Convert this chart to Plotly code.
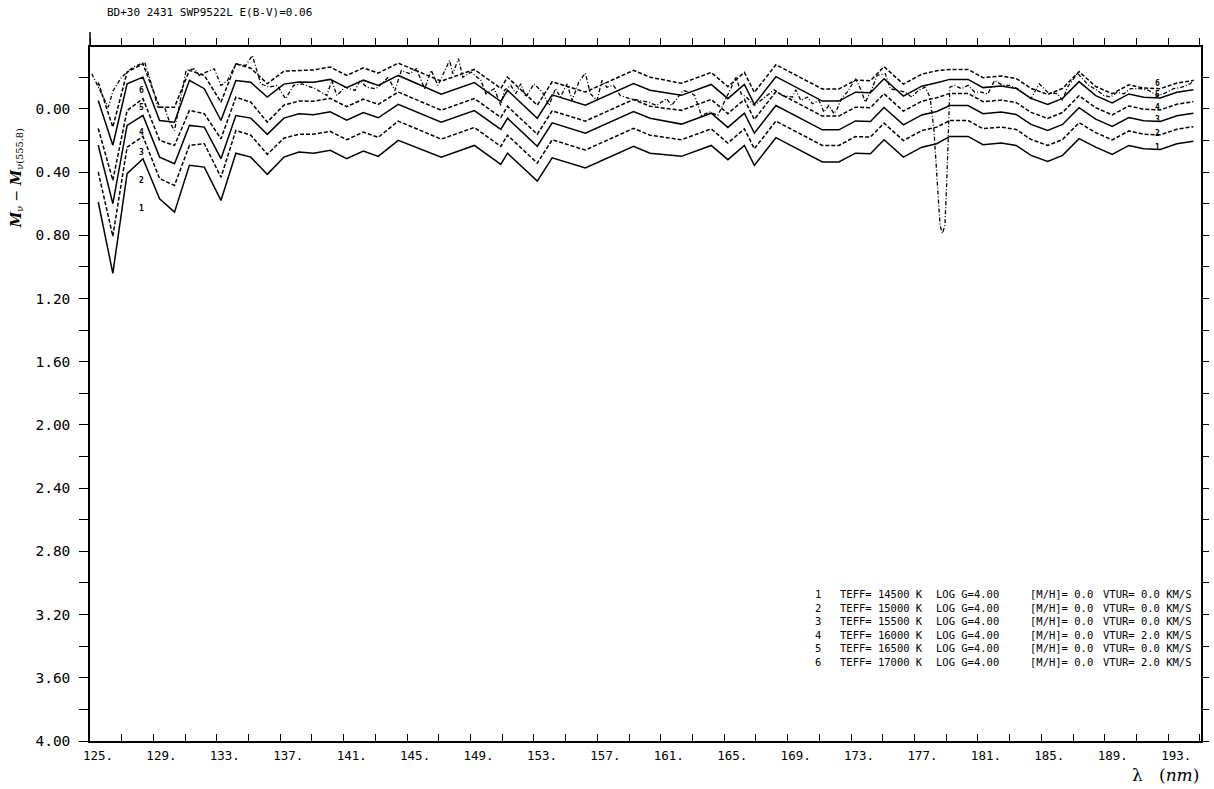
import plotly.graph_objects as go

TITLE = "BD+30 2431 SWP9522L E(B-V)=0.06"

LAM_MODEL = [125.52, 126.44, 127.34, 128.34, 129.39, 130.33, 131.27, 132.21, 133.26, 134.20,
             135.14, 136.18, 137.23, 138.17, 139.11, 140.15, 141.19, 142.24, 143.18, 144.44,
             147.15, 149.24, 150.91, 151.33, 153.21, 154.15, 156.24, 159.28, 160.32, 162.30,
             164.18, 165.23, 166.27, 166.90, 168.26, 171.19, 172.23, 173.28, 174.22, 175.08,
             176.30, 177.46, 178.40, 179.23, 180.38, 181.32, 182.47, 183.41, 184.35, 185.40,
             186.34, 187.38, 188.43, 189.47, 190.52, 191.46, 192.50, 193.55, 194.59]

M1 = [0.589, 1.040, 0.410, 0.315, 0.568, 0.653, 0.357, 0.368, 0.579, 0.280,
      0.305, 0.414, 0.305, 0.273, 0.280, 0.262, 0.315, 0.267, 0.300, 0.199,
      0.305, 0.231, 0.351, 0.280, 0.457, 0.309, 0.374, 0.237, 0.280, 0.300,
      0.231, 0.321, 0.231, 0.357, 0.182, 0.336, 0.336, 0.280, 0.283, 0.195,
      0.305, 0.242, 0.220, 0.174, 0.174, 0.226, 0.216, 0.231, 0.294, 0.332,
      0.294, 0.188, 0.242, 0.288, 0.231, 0.252, 0.256, 0.220, 0.204]
M2 = [0.399, 0.806, 0.242, 0.174, 0.441, 0.484, 0.230, 0.220, 0.432, 0.136,
      0.166, 0.287, 0.185, 0.161, 0.160, 0.142, 0.195, 0.147, 0.180, 0.077,
      0.191, 0.117, 0.237, 0.166, 0.343, 0.195, 0.260, 0.123, 0.166, 0.195,
      0.126, 0.216, 0.126, 0.252, 0.077, 0.231, 0.231, 0.175, 0.178, 0.090,
      0.200, 0.137, 0.115, 0.073, 0.073, 0.125, 0.115, 0.130, 0.193, 0.231,
      0.193, 0.087, 0.150, 0.196, 0.139, 0.160, 0.164, 0.128, 0.112]
M3 = [0.230, 0.599, 0.104, 0.041, 0.305, 0.347, 0.104, 0.115, 0.315, 0.042,
      0.058, 0.161, 0.058, 0.030, 0.036, 0.018, 0.071, 0.023, 0.056, -0.029,
      0.084, 0.010, 0.130, 0.059, 0.236, 0.088, 0.153, 0.016, 0.059, 0.096,
      0.027, 0.117, 0.027, 0.153, -0.022, 0.132, 0.132, 0.076, 0.079, -0.009,
      0.101, 0.038, 0.016, -0.022, -0.022, 0.030, 0.020, 0.035, 0.098, 0.136,
      0.098, -0.008, 0.065, 0.111, 0.054, 0.075, 0.079, 0.043, 0.027]
M4 = [0.123, 0.452, 0.010, -0.065, 0.199, 0.231, 0.009, 0.030, 0.189, -0.074,
      -0.043, 0.083, -0.024, -0.050, -0.049, -0.067, -0.014, -0.062, -0.029, -0.107,
      0.008, -0.066, 0.054, -0.017, 0.160, 0.012, 0.077, -0.060, -0.017, 0.009,
      -0.060, 0.030, -0.060, 0.066, -0.109, 0.045, 0.045, -0.011, -0.008, -0.096,
      0.014, -0.049, -0.071, -0.098, -0.098, -0.046, -0.056, -0.041, 0.022, 0.060,
      0.022, -0.084, -0.008, 0.038, -0.019, 0.002, 0.006, -0.030, -0.046]
M5 = [-0.054, 0.230, -0.159, -0.201, 0.073, 0.084, -0.181, -0.128, 0.073, -0.180,
      -0.169, -0.075, -0.157, -0.170, -0.169, -0.187, -0.134, -0.182, -0.149, -0.212,
      -0.093, -0.167, -0.047, -0.118, 0.059, -0.089, -0.024, -0.161, -0.118, -0.086,
      -0.155, -0.065, -0.155, -0.029, -0.204, -0.050, -0.050, -0.106, -0.103, -0.191,
      -0.081, -0.144, -0.166, -0.187, -0.187, -0.135, -0.145, -0.130, -0.067, -0.029,
      -0.067, -0.173, -0.084, -0.038, -0.095, -0.074, -0.070, -0.106, -0.122]
M6 = [-0.168, 0.115, -0.233, -0.286, -0.011, -0.011, -0.244, -0.212, -0.043, -0.285,
      -0.258, -0.160, -0.239, -0.244, -0.247, -0.265, -0.212, -0.260, -0.227, -0.290,
      -0.176, -0.250, -0.130, -0.201, -0.024, -0.172, -0.107, -0.244, -0.201, -0.162,
      -0.231, -0.141, -0.231, -0.105, -0.280, -0.126, -0.126, -0.182, -0.179, -0.267,
      -0.157, -0.220, -0.242, -0.250, -0.250, -0.198, -0.208, -0.193, -0.130, -0.092,
      -0.130, -0.236, -0.142, -0.096, -0.153, -0.132, -0.128, -0.164, -0.180]

LAM_OBS = [125.11, 126.15, 126.46, 126.99, 127.71, 128.45, 128.87, 129.28, 129.70, 130.02,
           130.33, 131.06, 131.58, 131.90, 132.32, 132.84, 133.26, 133.67, 134.20, 134.82,
           135.24, 135.77, 136.29, 136.81, 137.33, 137.85, 138.37, 139.21, 139.94, 140.25,
           140.57, 141.09, 141.72, 142.03, 142.45, 142.97, 143.18, 143.81, 144.23, 144.64,
           145.17, 145.58, 146.11, 146.52, 146.94, 147.68, 147.88, 148.24, 148.51, 149.03,
           149.66, 149.97, 150.50, 150.91, 151.13, 151.54, 151.85, 152.17, 152.48, 153.01,
           153.53, 153.95, 154.36, 154.67, 155.09, 155.41, 155.83, 156.24, 156.56, 156.98,
           157.29, 157.60, 158.02, 158.44, 159.06, 159.69, 160.22, 160.74, 161.36, 161.68,
           162.41, 162.82, 163.14, 163.56, 164.08, 164.60, 165.13, 165.75, 166.07, 166.39,
           166.90, 167.43, 168.15, 168.68, 169.31, 169.51, 169.83, 170.25, 170.56, 170.98,
           171.29, 171.60, 171.92, 172.13, 172.44, 172.76, 173.28, 173.59, 173.90, 174.32,
           174.64, 175.16, 175.47, 175.99, 176.41, 176.83, 177.24, 177.66, 177.98, 178.23,
           178.42, 178.61, 178.76, 178.92, 179.05, 179.15, 179.23, 179.55, 179.96, 180.38,
           180.80, 181.22, 181.63, 182.05, 182.57, 182.99, 183.51, 183.93, 184.35, 184.87,
           185.40, 186.02, 186.34, 186.65, 187.07, 187.28, 187.59, 188.01, 188.53, 188.95,
           189.37, 189.78, 190.20, 190.62, 191.25, 191.77, 192.30, 192.71, 193.34, 193.86,
           194.39, 194.70]
M_OBS = [-0.223, -0.011, -0.117, -0.201, -0.264, -0.296, -0.159, -0.011, -0.011, 0.083,
         0.136, -0.244, -0.254, -0.212, -0.233, -0.254, -0.149, -0.180, -0.286, -0.275,
         -0.338, -0.159, -0.138, -0.149, -0.065, -0.149, -0.159, -0.128, -0.085, -0.180,
         -0.085, -0.138, -0.117, -0.180, -0.138, -0.128, -0.138, -0.201, -0.117, -0.244,
         -0.223, -0.254, -0.128, -0.244, -0.149, -0.307, -0.223, -0.318, -0.201, -0.233,
         -0.180, -0.096, -0.128, -0.022, -0.117, -0.149, -0.096, -0.159, -0.075, -0.159,
         -0.106, -0.022, -0.128, -0.075, -0.159, -0.054, -0.170, -0.226, -0.096, -0.054,
         -0.180, -0.138, -0.149, -0.085, -0.065, -0.054, -0.043, -0.022, -0.065, -0.022,
         -0.117, -0.106, -0.085, 0.041, 0.020, 0.041, -0.075, -0.201, -0.096, -0.075,
         -0.022, -0.065, -0.121, -0.085, -0.075, -0.121, -0.054, -0.075, -0.033, -0.054,
         0.020, -0.022, 0.030, -0.001, -0.075, -0.106, -0.191, -0.128, -0.043, -0.128,
         -0.212, -0.223, -0.128, -0.117, -0.106, -0.075, -0.117, -0.138, -0.075, 0.136,
         0.421, 0.737, 0.788, 0.737, 0.421, 0.073, -0.138, -0.149, -0.128, -0.149,
         -0.106, -0.106, -0.096, -0.180, -0.149, -0.149, -0.128, -0.096, -0.065, -0.159,
         -0.106, -0.096, -0.054, -0.138, -0.201, -0.226, -0.191, -0.149, -0.117, -0.085,
         -0.075, -0.106, -0.096, -0.128, -0.128, -0.117, -0.085, -0.096, -0.128, -0.138,
         -0.159, -0.193]

CURVE_IDS = ["1", "2", "3", "4", "5", "6"]
LABEL_LAM_LEFT = 128.24
LABEL_M_LEFT = [0.631, 0.453, 0.273, 0.147, -0.012, -0.118]
LABEL_LAM_RIGHT = 192.34
LABEL_M_RIGHT = [0.242, 0.153, 0.066, -0.008, -0.092, -0.159]

TEFF = [14500, 15000, 15500, 16000, 16500, 17000]
LOGG = [4.00, 4.00, 4.00, 4.00, 4.00, 4.00]
MH = [0.0, 0.0, 0.0, 0.0, 0.0, 0.0]
VTUR = [0.0, 0.0, 0.0, 2.0, 0.0, 2.0]

XTICK_VALUES = [125, 129, 133, 137, 141, 145, 149, 153, 157, 161, 165, 169, 173, 177, 181, 185, 189, 193]
XTICK_LABELS = ["125.", "129.", "133.", "137.", "141.", "145.", "149.", "153.", "157.",
                "161.", "165.", "169.", "173.", "177.", "181.", "185.", "189.", "193."]
YTICK_VALUES = [0.0, 0.4, 0.8, 1.2, 1.6, 2.0, 2.4, 2.8, 3.2, 3.6, 4.0]
YTICK_LABELS = ["0.00", "0.40", "0.80", "1.20", "1.60", "2.00", "2.40", "2.80", "3.20", "3.60", "4.00"]

X_RANGE = [125.0, 195.07]
Y_RANGE = [4.0, -0.392]

MONO = "DejaVu Sans Mono"
INK = "#000000"

W, H = 1214, 789
ML, MR, MT, MB = 90, 6.5, 46.5, 48
PW = W - ML - MR
PH = H - MT - MB


def px(xp):
    return (xp - ML) / PW


def py(yp):
    return (H - MB - yp) / PH


fig = go.Figure()

models = [M1, M2, M3, M4, M5, M6]
for i, m in enumerate(models):
    dash = "solid" if i % 2 == 0 else "4px,2px"
    fig.add_trace(go.Scatter(x=LAM_MODEL, y=m, mode="lines",
                             line=dict(color=INK, width=1.5, dash=dash),
                             showlegend=False, hoverinfo="skip"))

fig.add_trace(go.Scatter(x=LAM_OBS, y=M_OBS, mode="lines",
                         line=dict(color=INK, width=1.3, dash="4px,2px,1px,2px"),
                         showlegend=False, hoverinfo="skip"))

# invisible trace to anchor the top/right axes
fig.add_trace(go.Scatter(x=[X_RANGE[0]], y=[Y_RANGE[0]], xaxis="x2", yaxis="y2",
                         mode="markers", marker=dict(opacity=0), showlegend=False,
                         hoverinfo="skip"))

annotations = []
small = dict(family=MONO, size=8, color=INK)
for cid, m in zip(CURVE_IDS, LABEL_M_LEFT):
    annotations.append(dict(x=LABEL_LAM_LEFT, y=m, xref="x", yref="y", text="<b>" + cid + "</b>",
                            showarrow=False, font=small))
for cid, m in zip(CURVE_IDS, LABEL_M_RIGHT):
    annotations.append(dict(x=LABEL_LAM_RIGHT, y=m, xref="x", yref="y", text="<b>" + cid + "</b>",
                            showarrow=False, font=small))

row_y = [594, 607.6, 621.2, 634.8, 648.4, 662]
lf = dict(family=MONO, size=10.5, color=INK)
for i in range(6):
    yy = py(row_y[i])
    annotations.append(dict(x=px(822), y=yy, xref="paper", yref="paper", text=CURVE_IDS[i],
                            showarrow=False, xanchor="center", yanchor="middle", font=lf))
    annotations.append(dict(x=px(842.7), y=yy, xref="paper", yref="paper",
                            text=f"TEFF= {TEFF[i]} K", showarrow=False,
                            xanchor="left", yanchor="middle", font=lf))
    annotations.append(dict(x=px(939.3), y=yy, xref="paper", yref="paper",
                            text=f"LOG G={LOGG[i]:.2f}", showarrow=False,
                            xanchor="left", yanchor="middle", font=lf))
    annotations.append(dict(x=px(1033.3), y=yy, xref="paper", yref="paper",
                            text=f"[M/H]= {MH[i]:.1f}", showarrow=False,
                            xanchor="left", yanchor="middle", font=lf))
    annotations.append(dict(x=px(1107.3), y=yy, xref="paper", yref="paper",
                            text=f"VTUR= {VTUR[i]:.1f} KM/S", showarrow=False,
                            xanchor="left", yanchor="middle", font=lf))

annotations.append(dict(x=px(105), y=py(11.5), xref="paper", yref="paper", text=TITLE,
                        showarrow=False, xanchor="left", yanchor="middle",
                        font=dict(family=MONO, size=11, color=INK)))
annotations.append(dict(x=px(16), y=py(177.5), xref="paper", yref="paper",
                        text="<b><i>M</i></b><sub>ν</sub> − <b><i>M</i></b><sub>ν(555.8)</sub>",
                        showarrow=False, textangle=-90, xanchor="center", yanchor="middle",
                        font=dict(family="DejaVu Serif", size=14, color=INK)))
annotations.append(dict(x=px(1207), y=py(775.5), xref="paper", yref="paper",
                        text="λ   (<i>nm</i>)", showarrow=False, xanchor="right",
                        yanchor="middle", font=dict(family="DejaVu Serif", size=17, color=INK)))

axis_common = dict(showgrid=False, zeroline=False, showline=True, linecolor=INK,
                   linewidth=1.5, tickcolor=INK, tickwidth=1.3)

fig.update_layout(
    width=W, height=H,
    margin=dict(l=ML, r=MR, t=MT, b=MB, pad=0),
    paper_bgcolor="white", plot_bgcolor="white",
    xaxis=dict(range=X_RANGE, tickmode="array", tickvals=XTICK_VALUES, ticktext=XTICK_LABELS,
               ticks="inside", ticklen=7, ticklabelshift=8, ticklabelstandoff=2,
               tickfont=dict(family=MONO, size=12.5, color=INK),
               minor=dict(tickmode="linear", tick0=125, dtick=2, ticks="inside", ticklen=7,
                          tickwidth=1.3, tickcolor=INK),
               **axis_common),
    xaxis2=dict(range=X_RANGE, overlaying="x", side="top", matches="x", tickmode="linear",
                tick0=125, dtick=2, ticks="outside", ticklen=7, showticklabels=False,
                **axis_common),
    yaxis=dict(range=Y_RANGE, tickmode="array", tickvals=YTICK_VALUES, ticktext=YTICK_LABELS,
               ticks="outside", ticklen=9, ticklabelstandoff=6,
               tickfont=dict(family=MONO, size=14.5, color=INK),
               minor=dict(tickmode="linear", tick0=0, dtick=0.2, ticks="outside", ticklen=9,
                          tickwidth=1.3, tickcolor=INK),
               **axis_common),
    yaxis2=dict(range=Y_RANGE, overlaying="y", side="right", tickmode="linear", tick0=0,
                dtick=0.2, ticks="outside", ticklen=6, showticklabels=False,
                **axis_common),
    annotations=annotations,
    shapes=[dict(type="line", xref="paper", yref="paper", x0=0, x1=0, y0=1,
                 y1=1 + 15 / PH, line=dict(color=INK, width=1.5))],
)

fig.write_html("out.html")
